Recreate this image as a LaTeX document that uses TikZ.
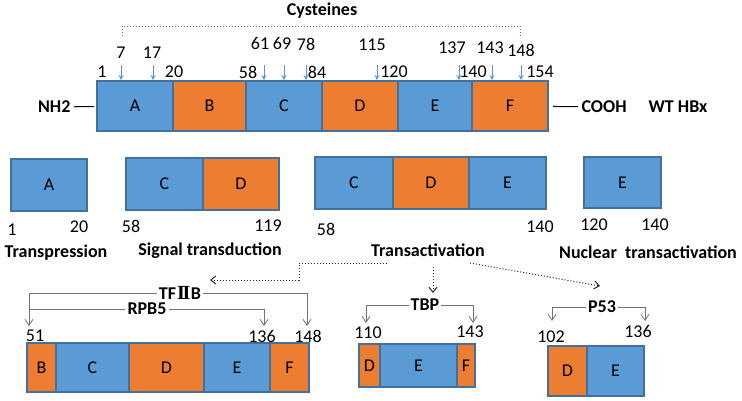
\documentclass[tikz,border=0pt]{standalone}
\usepackage{fontspec}
\setmainfont{Carlito}
\newfontfamily\romanII{Liberation Serif}
\usetikzlibrary{arrows.meta, positioning, calc}
\usepackage{xcolor}
\definecolor{hbxblue}{RGB}{91, 155, 213}
\definecolor{hbxorange}{RGB}{237, 125, 49}
\definecolor{hbxedge}{RGB}{65, 113, 156}
\definecolor{linkgray}{RGB}{115, 115, 115}
\definecolor{cysblue}{RGB}{68, 114, 196}

\begin{document}
\begin{tikzpicture}[x=1pt, y=-1pt,
  every node/.style={font=\fontsize{18}{20}\selectfont},
  seg/.style={draw=hbxedge, line width=1.2, inner sep=0, outer sep=0, minimum height=50},
  bseg/.style={seg, fill=hbxblue},
  oseg/.style={seg, fill=hbxorange},
  num/.style={inner sep=1},
  lab/.style={font=\fontsize{18}{20}\selectfont\bfseries},
  bind/.style={draw=linkgray, line width=0.8, -{Straight Barb[length=6,width=8]}},
  cys/.style={draw=hbxblue, line width=0.9, -{Stealth[length=5,width=5]}},
  route/.style={draw=black!85, dotted, line width=1, -{Straight Barb[length=5,width=8]}}]
\useasboundingbox (0,0) rectangle (742,400);

% wild type HBx
\node[bseg, minimum width=76] (A) at (135,106) {A};
\node[oseg, minimum width=73, right=0pt of A] (B) {B};
\node[bseg, minimum width=76, right=0pt of B] (C) {C};
\node[oseg, minimum width=76, right=0pt of C] (D) {D};
\node[bseg, minimum width=74, right=0pt of D] (E) {E};
\node[oseg, minimum width=76, right=0pt of E] (F) {F};
\node[lab, anchor=east] (nh2) at (74,107) {NH2};
\node[lab, anchor=west] (cooh) at (578,107) {COOH};
\node[lab] (wthbx) at (678,107) {WT HBx};
\draw[line width=1, shorten >=3] (nh2) -- (A);
\draw[line width=1, shorten <=5] (F) -- (cooh);

% cysteines
\node[lab] (cysteines) at (322,11) {Cysteines};
\coordinate (cysL) at (122,36);
\coordinate (cysR) at (520,36);
\draw[cysblue, dotted, line width=1] (cysL) -- ++(0,-10) -| (cysR);
\foreach \c/\nx/\ny/\ax in {7/121/53/121, 17/152/53/153, 61/260/43/264, 69/282/43/284,
    78/306/44/306, 115/372/45/377, 137/452/48/459, 143/490/48/492, 148/521/50/521} {
  \node[num] (cys\c) at (\nx,\ny) {\c};
  \coordinate (cyt\c) at (\ax,65);
  \coordinate (cyb\c) at (\ax,80);
  \draw[cys] (cyt\c) -- (cyb\c);
}
\foreach \b/\bx in {1/102, 20/174, 58/248, 84/317, 120/394, 140/473, 154/540}
  \node[num] (bd\b) at (\bx,72) {\b};

% functional regions
\node[bseg, minimum width=76, minimum height=52] (tpA) at (49,185) {A};
\node[bseg, minimum width=77, minimum height=52] (stC) at (164.5,184) {C};
\node[oseg, minimum width=76, minimum height=52, right=0pt of stC] (stD) {D};
\node[bseg, minimum width=78, minimum height=52] (taC) at (354,183) {C};
\node[oseg, minimum width=76, minimum height=52, right=0pt of taC] (taD) {D};
\node[bseg, minimum width=77, minimum height=52, right=0pt of taD] (taE) {E};
\node[bseg, minimum width=77, minimum height=51] (ntE) at (622.5,182.5) {E};

\node[num] (tp1) at (12,230) {1};
\node[num] (tp20) at (79,227) {20};
\node[num] (st58) at (131,226) {58};
\node[num] (st119) at (268,226) {119};
\node[num] (ta58) at (326,229) {58};
\node[num] (ta140) at (540,227) {140};
\node[num] (nt120) at (594,225) {120};
\node[num] (nt140) at (655,225) {140};

\node[lab] (transpression) at (56,253) {Transpression};
\node[lab] (signal) at (210,251) {Signal transduction};
\node[lab] (transact) at (428,250) {Transactivation};
\node[lab] (nuclear) at (648,252) {Nuclear~~transactivation};

% routes to binding partners
\coordinate (rtA) at (387,263);
\coordinate (rtbend) at (299,280);
\coordinate (tfend) at (210,280);
\coordinate (tbpS) at (433,267);
\coordinate (tbpE) at (433,293);
\coordinate (p53S) at (470,263);
\coordinate (p53E) at (600,286);
\draw[route] (rtA) -| (rtbend) -- (tfend);
\draw[route] (tbpS) -- (tbpE);
\draw[route] (p53S) -- (p53E);

% TFIIB and RPB5
\node[oseg, minimum width=29, minimum height=49] (tfB) at (41.5,367.5) {B};
\node[bseg, minimum width=73, minimum height=49, right=0pt of tfB] (tfC) {C};
\node[oseg, minimum width=75, minimum height=49, right=0pt of tfC] (tfD) {D};
\node[bseg, minimum width=66, minimum height=49, right=0pt of tfD] (tfE) {E};
\node[oseg, minimum width=39, minimum height=49, right=0pt of tfE] (tfF) {F};
\node[lab, inner sep=2] (tf2b) at (180,293) {TF\kern1pt{\romanII\fontsize{20}{20}\selectfont I\kern-2.2ptI}\kern0.5ptB};
\node[lab, inner sep=2] (rpb5) at (147,309) {RPB5};
\coordinate (tfL) at (29,326);
\coordinate (tfR) at (307,326);
\coordinate (rpL) at (29,309);
\coordinate (rpR) at (264,326);
\draw[bind] (tf2b.west) -| (tfL);
\draw[bind] (tf2b.east) -| (tfR);
\draw[draw=linkgray, line width=0.8] (rpb5.west) -- (rpL);
\draw[bind] (rpb5.east) -| (rpR);
\node[num] (tf51) at (35,336) {51};
\node[num] (tf136) at (262,336) {136};
\node[num] (tf148) at (308,336) {148};

% TBP
\node[oseg, minimum width=21, minimum height=43] (tbD) at (369.5,365.5) {D};
\node[bseg, minimum width=77, minimum height=43, right=0pt of tbD] (tbE) {E};
\node[oseg, minimum width=18, minimum height=43, right=0pt of tbE] (tbF) {F};
\node[lab, inner sep=2] (tbp) at (425,305) {TBP};
\coordinate (tbpL) at (366,323);
\coordinate (tbpR) at (473,323);
\draw[bind] (tbp.west) -| (tbpL);
\draw[bind] (tbp.east) -| (tbpR);
\node[num] (tb110) at (368,333) {110};
\node[num] (tb143) at (470,332) {143};

% P53
\node[oseg, minimum width=39, minimum height=50] (psD) at (567.5,371) {D};
\node[bseg, minimum width=57, minimum height=50, right=0pt of psD] (psE) {E};
\node[lab, inner sep=2] (p53) at (602,307) {P53};
\coordinate (p53L) at (552,321);
\coordinate (p53R) at (645,321);
\draw[bind] (p53.west) -| (p53L);
\draw[bind] (p53.east) -| (p53R);
\node[num] (ps102) at (551,337) {102};
\node[num] (ps136) at (638,331) {136};
\end{tikzpicture}
\end{document}
